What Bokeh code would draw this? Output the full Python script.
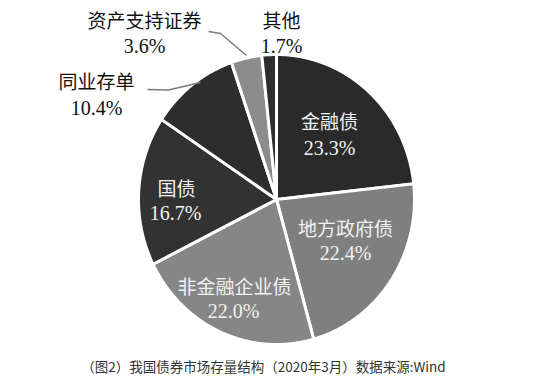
import numpy as np
from bokeh.plotting import figure
from bokeh.models import Range1d, ColumnDataSource
from bokeh.core.properties import value
from bokeh.embed import file_html
from bokeh.resources import INLINE

# ---- data ----
categories = ["金融债", "地方政府债", "非金融企业债", "国债", "同业存单", "资产支持证券", "其他"]
shares = [23.3, 22.4, 22.0, 16.7, 10.4, 3.6, 1.7]
share_labels = ["23.3%", "22.4%", "22.0%", "16.7%", "10.4%", "3.6%", "1.7%"]
caption = "（图2）我国债券市场存量结构（2020年3月）数据来源:Wind"

# ---- styles / layout ----
colors = ["#2a2a2a", "#7f7f7f", "#868686", "#323232", "#2d2d2d", "#8c8c8c", "#2d2d2d"]
text_colors = ["#f2f2f2", "#f2f2f2", "#f2f2f2", "#f2f2f2", "#111111", "#111111", "#111111"]
W, H = 534, 374
cx, cy = 276, 175          # pie centre (screen px, y up)
rx, ry = 138, 145          # slight vertical stretch as in the reference

# label positions (screen px from top-left of figure) for name and value
name_pos = [(329, 120), (345, 227), (234, 285), (176, 187), (96, 80), (144, 19), (281, 19)]
val_pos = [(329, 147), (345, 252), (233, 310), (175, 212), (96, 107), (144, 45), (281, 45)]

p = figure(width=W, height=H, output_backend="svg", toolbar_location=None,
           x_range=Range1d(0, W), y_range=Range1d(0, H), min_border=0)
p.axis.visible = False
p.grid.visible = False
p.outline_line_color = None
p.background_fill_color = "white"

total = sum(shares)
start = np.pi / 2
xs, ys = [], []
for s in shares:
    sweep = 2 * np.pi * s / total
    t = np.linspace(start, start - sweep, max(int(sweep * 60), 4))
    xs.append([cx] + list(cx + rx * np.cos(t)))
    ys.append([cy] + list(cy + ry * np.sin(t)))
    start -= sweep

p.patches(xs, ys, fill_color=colors, line_color="white", line_width=3, line_join="miter")

# leader lines
p.line([147, 168, 200], [H - 89, H - 89.5, H - 82], line_color="#7a7a7a", line_width=1.5)
p.line([208, 220, 246], [H - 31, H - 33, H - 55], line_color="#7a7a7a", line_width=1.5)

src = ColumnDataSource(dict(
    nx=[a for a, b in name_pos], ny=[H - b for a, b in name_pos],
    vx=[a for a, b in val_pos], vy=[H - b for a, b in val_pos],
    name=categories, val=share_labels, tc=text_colors))

p.text(x="nx", y="ny", text="name", source=src, text_color="tc",
       text_font=value("Noto Sans CJK SC"), text_font_size="19px",
       text_align="center", text_baseline="middle")
p.text(x="vx", y="vy", text="val", source=src, text_color="tc",
       text_font=value("Liberation Serif"), text_font_size="20px",
       text_align="center", text_baseline="middle")

p.text(x=[263], y=[H - 365], text=[caption], text_color="#333333",
       text_font=value("Noto Sans CJK SC"), text_font_size="13.5px",
       text_align="center", text_baseline="middle")

open("out.html", "w").write(file_html(p, INLINE))
